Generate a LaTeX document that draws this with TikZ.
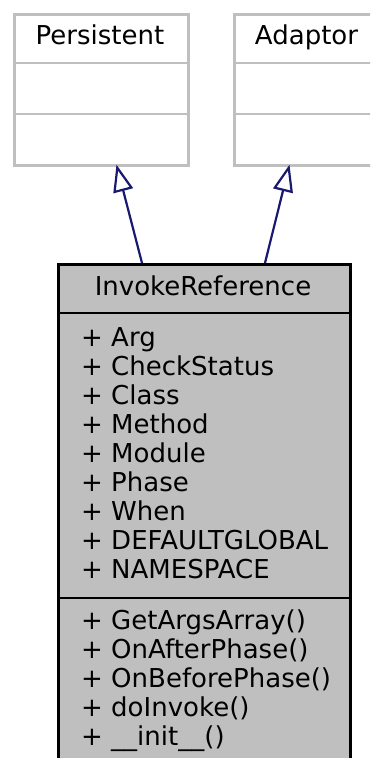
\documentclass[tikz,border=0pt]{standalone}
\usepackage{fontspec}
\setmainfont{DejaVu Sans}
\usetikzlibrary{arrows.meta,calc}
\definecolor{edgeblue}{HTML}{191970}
\definecolor{boxline}{HTML}{BFBFBF}
\definecolor{boxfill}{HTML}{BFBFBF}
\tikzset{
  txt/.style={font=\fontsize{26bp}{29bp}\selectfont, inner sep=0pt},
  greybox/.style={draw=boxline, line width=2.6bp, fill=white, inner sep=0pt, rectangle},
  darkbox/.style={draw=black, line width=2.6bp, fill=boxfill, inner sep=0pt, rectangle},
  greyline/.style={draw=boxline, line width=2.6bp},
  darkline/.style={draw=black, line width=2.6bp},
  inherit/.style={draw=edgeblue, line width=2.2bp, shorten >=-2bp, -{Triangle[open, length=27bp, width=20bp, fill=white]}}
}
\begin{document}
\begin{tikzpicture}[x=1bp,y=-1bp]
\useasboundingbox (0,0) rectangle (370,758);
\clip (0,0) rectangle (370,758);
% parent classes
\node[greybox, minimum width=174bp, minimum height=151bp, anchor=north west] (pers) at (13,13) {};
\draw[greyline] ($(pers.north west)+(0,50)$) -- ($(pers.north east)+(0,50)$);
\draw[greyline] ($(pers.north west)+(0,101)$) -- ($(pers.north east)+(0,101)$);
\node[txt, anchor=base] (perst) at (100,45) {Persistent};

\node[greybox, minimum width=147bp, minimum height=151bp, anchor=north west] (adap) at (233,13) {};
\draw[greyline] ($(adap.north west)+(0,50)$) -- ($(adap.north east)+(0,50)$);
\draw[greyline] ($(adap.north west)+(0,101)$) -- ($(adap.north east)+(0,101)$);
\node[txt, anchor=base] (adapt) at (306.5,45) {Adaptor};

% main class
\node[darkbox, minimum width=292bp, minimum height=530bp, anchor=north west] (inv) at (57,263) {};
\draw[darkline] ($(inv.north west)+(0,50)$) -- ($(inv.north east)+(0,50)$);
\draw[darkline] ($(inv.north west)+(0,335)$) -- ($(inv.north east)+(0,335)$);
\node[txt, anchor=base] (invt) at (203,295) {InvokeReference};

\foreach \t [count=\i from 0] in {Arg,CheckStatus,Class,Method,Module,Phase,When,DEFAULTGLOBAL,NAMESPACE}
  \node[txt, anchor=base west] (attr\i) at (81,346+29*\i) {+ \t};
\foreach \t [count=\i from 0] in {GetArgsArray(),OnAfterPhase(),OnBeforePhase(),doInvoke(),\_\_init\_\_()}
  \node[txt, anchor=base west] (meth\i) at (81,629+29*\i) {+ \t};

% inheritance arrows
\draw[inherit] ($(inv.north west)+(85,0)$) -- ($(pers.south west)+(104,0)$);
\draw[inherit] ($(inv.north west)+(208,0)$) -- ($(adap.south west)+(56,0)$);
\end{tikzpicture}
\end{document}
